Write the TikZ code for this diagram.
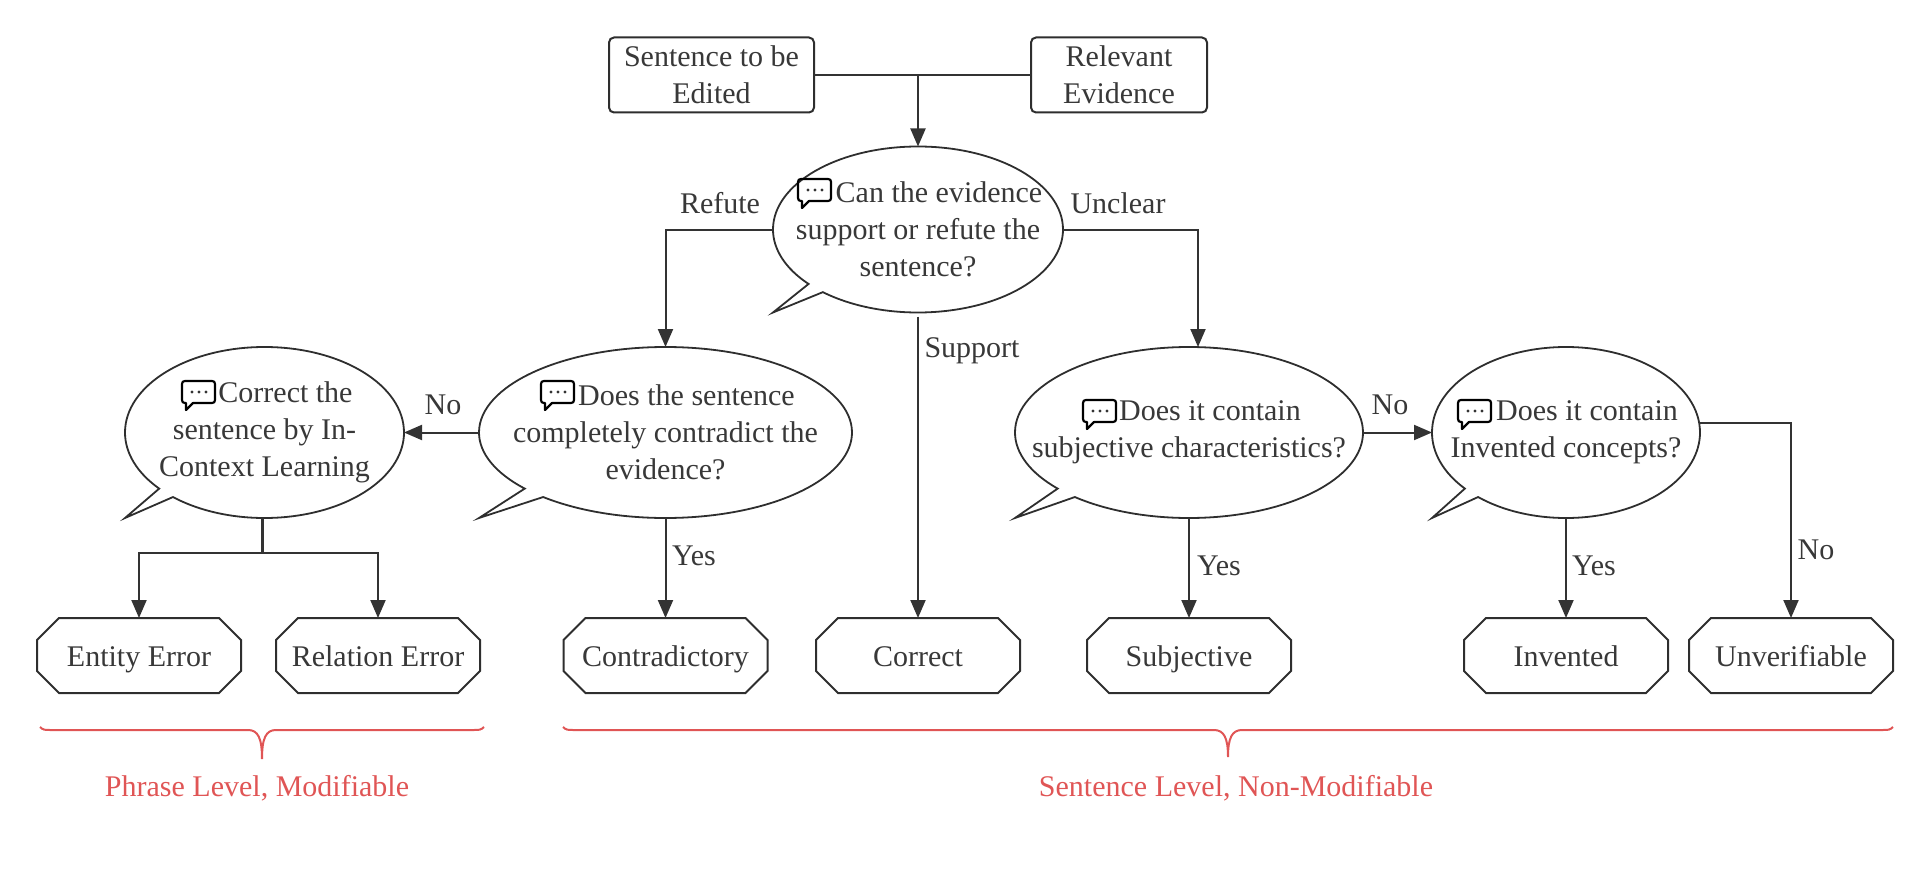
\documentclass[tikz,border=0pt]{standalone}
\usepackage{fontspec}
\setmainfont{Liberation Serif}
\usepackage{tikz}
\usetikzlibrary{positioning,arrows.meta,shapes.callouts,calc}
\definecolor{levelred}{HTML}{E05555}
\newcommand{\iconsp}{\hspace*{21pt}}

\begin{document}
\begin{tikzpicture}[
  x=0.5pt, y=-0.5pt,
  textfont/.style={font=\fontsize{15pt}{18.5pt}\selectfont, text=black!78},
  inputbox/.style={rectangle, rounded corners=2.5pt, draw=black!82, line width=1pt, minimum width=#1, minimum height=37.5pt, inner sep=0pt, outer sep=0pt, align=center, textfont},
  bubble/.style 2 args={ellipse callout, draw=black!82, line width=0.9pt, minimum width=#1pt, minimum height=#2pt, inner xsep=-40pt, inner ysep=-20pt, outer sep=0pt, callout relative pointer={(-0.293*#1,0.293*#2)}, callout pointer arc=8, align=center, textfont},
  outline/.style={draw=black!82, line width=1pt},
  outcome/.style={rectangle, minimum width=102pt, minimum height=37.5pt, inner sep=0pt, outer sep=0pt, text height=10.5pt, text depth=0pt, textfont,
    append after command={\pgfextra{\let\octnode=\tikzlastnode
      \draw[outline] ($(\octnode.north west)+(22,0)$) -- ($(\octnode.north east)+(-22,0)$) -- ($(\octnode.north east)+(0,22)$) -- ($(\octnode.south east)+(0,-22)$) -- ($(\octnode.south east)+(-22,0)$) -- ($(\octnode.south west)+(22,0)$) -- ($(\octnode.south west)+(0,-22)$) -- ($(\octnode.north west)+(0,22)$) -- cycle;}}},
  edgelabel/.style={inner sep=0pt, textfont},
  levellabel/.style={inner sep=0pt, font=\fontsize{15pt}{18.5pt}\selectfont, text=levelred},
  arrow/.style={-{Triangle[length=9pt, width=7.5pt]}, line width=1pt, draw=black!80},
  link/.style={line width=1pt, draw=black!80},
  levelbrace/.style={line width=1pt, draw=levelred},
  chaticon/.pic={
    \draw[line width=1.1pt, black, line join=round] (3,0) -- (30,0) .. controls (32,0) and (33,1) .. (33,3) -- (33,19) .. controls (33,21) and (32,22) .. (30,22) -- (11,22) -- (4,29) -- (4,22) -- (3,22) .. controls (1,22) and (0,21) .. (0,19) -- (0,3) .. controls (0,1) and (1,0) .. (3,0) -- cycle;
    \fill[black!80] (10,11) circle (1.6) (17,11) circle (1.6) (24,11) circle (1.6);
  },
]
  \useasboundingbox (0,0) rectangle (1929,883);

  \node[inputbox=102.5pt] (sent) at (711.5,75) {Sentence to be\\Edited};
  \node[inputbox=88pt, right=108.5pt of sent] (evid) {Relevant\\Evidence};

  \node[bubble={145}{83}] (qmain) at (918,229.5) {\iconsp Can the evidence\\support or refute the\\sentence?};

  \node[bubble={139.5}{85.5}] (qfix) at (264.5,432.5) {\iconsp Correct the\\sentence by In-\\Context Learning};
  \node[bubble={186.5}{85.5}, right=37.5pt of qfix] (qcontra) {\iconsp Does the sentence\\completely contradict the\\evidence?};
  \node[bubble={174}{85.5}, right=81.5pt of qcontra] (qsubj) {\iconsp Does it contain\\subjective characteristics?};
  \node[bubble={134}{85.5}, right=34.5pt of qsubj] (qinv) {\iconsp Does it contain\\Invented concepts?};

  \pic at ([shift={(-120,-50.5)}]qmain.center) {chaticon};
  \pic at ([shift={(-82.5,-51.5)}]qfix.center) {chaticon};
  \pic at ([shift={(-124.5,-51.5)}]qcontra.center) {chaticon};
  \pic at ([shift={(-106,-32.5)}]qsubj.center) {chaticon};
  \pic at ([shift={(-108,-32.5)}]qinv.center) {chaticon};

  \node[outcome] (entity) at (139,655.5) {Entity Error};
  \node[outcome, right=17.5pt of entity] (relation) {Relation Error};
  \node[outcome, right=41.75pt of relation] (contra) {Contradictory};
  \node[outcome, right=24.25pt of contra] (correct) {Correct};
  \node[outcome, right=33.5pt of correct] (subj) {Subjective};
  \node[outcome, right=86.5pt of subj] (invented) {Invented};
  \node[outcome, right=10.5pt of invented] (unver) {Unverifiable};

  \coordinate (merge) at (qmain.north |- sent.east);
  \coordinate (fork) at (262,553);

  \draw[link] (sent.east) -- (evid.west);
  \draw[arrow] (merge) -- (qmain.north);
  \draw[arrow] (qmain.west) -| (qcontra.north);
  \draw[arrow] (qmain.east) -| ([xshift=4.5pt]qsubj.north);
  \draw[arrow, shorten <=2pt] (qmain.south) -- (correct.north);
  \draw[arrow] (qcontra.west) -- (qfix.east);
  \draw[arrow] (qcontra.south) -- (contra.north);
  \draw[arrow] (qsubj.east) -- (qinv.west);
  \draw[arrow] (qsubj.south) -- (subj.north);
  \draw[arrow] (qinv.south) -- (invented.north);
  \draw[arrow] (qinv.4) -| (unver.north);
  \draw[link, line width=1.5pt] (qfix.south -| fork) -- (fork);
  \draw[arrow] (fork) -| (entity.north);
  \draw[arrow] (fork) -| (relation.north);

  \node[edgelabel] (lrefute) at (720,203) {Refute};
  \node[edgelabel] (lunclear) at (1118,203) {Unclear};
  \node[edgelabel] (lsupport) at (972,351) {Support};
  \node[edgelabel] (lnofix) at (443,405) {No};
  \node[edgelabel] (lyescontra) at (694,556) {Yes};
  \node[edgelabel] (lyessubj) at (1219,566) {Yes};
  \node[edgelabel] (lnoinv) at (1390,405) {No};
  \node[edgelabel] (lyesinv) at (1594,566) {Yes};
  \node[edgelabel] (lnounver) at (1816,550) {No};

  \draw[levelbrace] (40,727) .. controls (43,730) and (45,730) .. (50,730) -- (248,730) .. controls (258,730) and (262,738) .. (262,759) .. controls (262,738) and (266,730) .. (276,730) -- (474,730) .. controls (479,730) and (481,730) .. (484,727);
  \draw[levelbrace] (563,727) .. controls (566,730) and (568,730) .. (573,730) -- (1214,730) .. controls (1224,730) and (1228,738) .. (1228,757) .. controls (1228,738) and (1232,730) .. (1242,730) -- (1883,730) .. controls (1888,730) and (1890,730) .. (1893,727);

  \node[levellabel] (lphrase) at (257,788) {Phrase Level, Modifiable};
  \node[levellabel] (lsentence) at (1236,788) {Sentence Level, Non-Modifiable};
\end{tikzpicture}
\end{document}
